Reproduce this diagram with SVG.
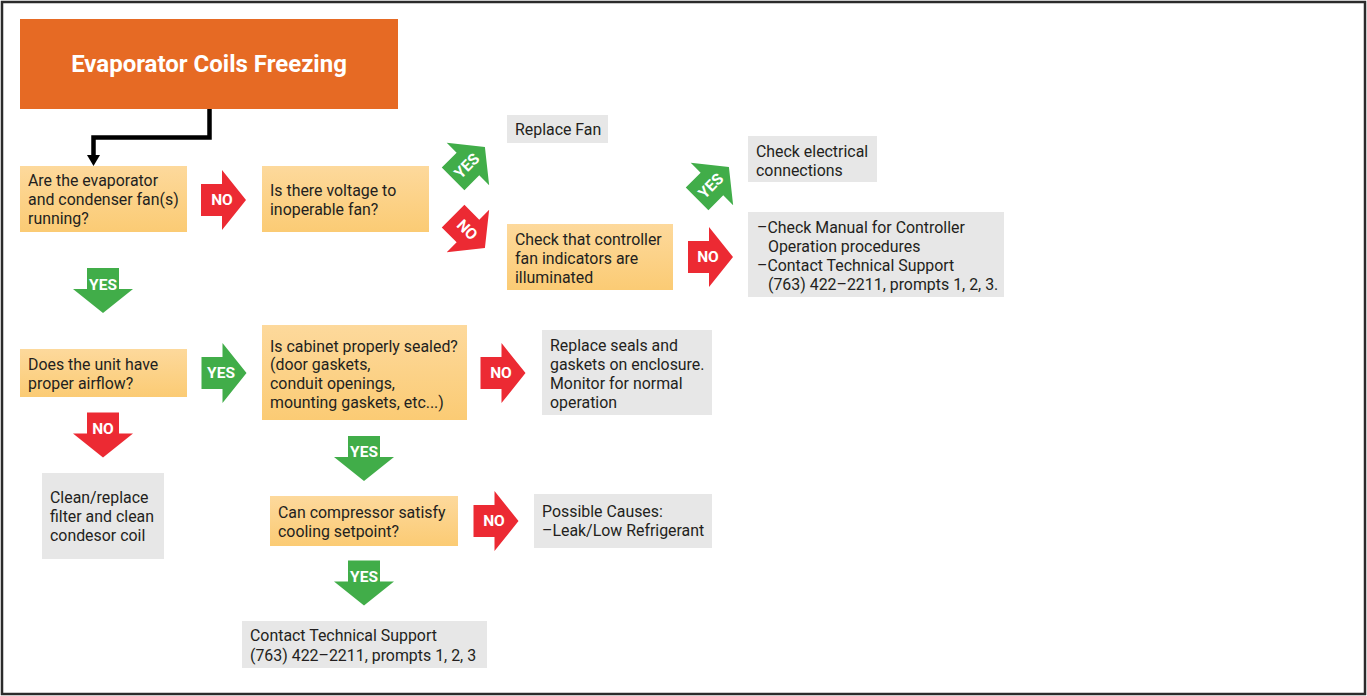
<svg xmlns="http://www.w3.org/2000/svg" width="1367" height="696" viewBox="0 0 1367 696">
<style>
.t{font-family:Roboto,"Liberation Sans",sans-serif;font-size:15.9px;fill:#231F20}
.q{fill:url(#og)}
.g{fill:#E7E7E7}
.lbl{font-family:Roboto,"Liberation Sans",sans-serif;font-size:15.5px;font-weight:bold;fill:#fff;text-anchor:middle}
.yes{fill:#41AD49}
.no{fill:#EC2A33}
</style>
<defs>
<linearGradient id="og" x1="0" y1="0" x2="0" y2="1">
<stop offset="0" stop-color="#FDD99C"/>
<stop offset="1" stop-color="#FBCB74"/>
</linearGradient>
<path id="ra" d="M-22.5,-16H-1.5V-30L22.5,0L-1.5,30V16H-22.5Z"/>
</defs>
<rect x="2" y="2" width="1363" height="692" fill="#fff" stroke="#2B2B2B" stroke-width="2.5"/>

<g id="title">
<rect x="20" y="19" width="378" height="90" fill="#E66A24"/>
<text x="209" y="72" font-family="Roboto,'Liberation Sans',sans-serif" font-size="24" font-weight="bold" fill="#fff" text-anchor="middle">Evaporator Coils Freezing</text>
</g>

<g id="connectors">
<polyline points="209.5,109 209.5,137.5 93.5,137.5 93.5,156" fill="none" stroke="#000" stroke-width="4.5"/>
<polygon points="87,155 100,155 93.5,166" fill="#000"/>
<use href="#ra" class="no" transform="translate(223.5,200)"/>
<text class="lbl" x="222" y="205">NO</text>
<use href="#ra" class="yes" transform="translate(469,163) rotate(-45)"/>
<text class="lbl" transform="translate(467,166) rotate(-45)" y="5">YES</text>
<use href="#ra" class="no" transform="translate(469,232) rotate(45)"/>
<text class="lbl" transform="translate(467,230) rotate(45)" y="5">NO</text>
<use href="#ra" class="yes" transform="translate(713,183) rotate(-45)"/>
<text class="lbl" transform="translate(711,186) rotate(-45)" y="5">YES</text>
<use href="#ra" class="no" transform="translate(710.5,257)"/>
<text class="lbl" x="708" y="262">NO</text>
<use href="#ra" class="yes" transform="translate(103,290.5) rotate(90)"/>
<text class="lbl" x="103" y="290">YES</text>
<use href="#ra" class="yes" transform="translate(224,373)"/>
<text class="lbl" x="221" y="378">YES</text>
<use href="#ra" class="no" transform="translate(503,373)"/>
<text class="lbl" x="501" y="378">NO</text>
<use href="#ra" class="no" transform="translate(103,435) rotate(90)"/>
<text class="lbl" x="103" y="434">NO</text>
<use href="#ra" class="yes" transform="translate(364,458.5) rotate(90)"/>
<text class="lbl" x="364" y="457">YES</text>
<use href="#ra" class="no" transform="translate(496,521)"/>
<text class="lbl" x="494" y="526">NO</text>
<use href="#ra" class="yes" transform="translate(364,583) rotate(90)"/>
<text class="lbl" x="364" y="582">YES</text>
</g>

<g id="q-fans">
<rect class="q" x="20" y="166" width="167" height="66"/>
<text class="t" x="28" y="186">Are the evaporator</text>
<text class="t" x="28" y="205">and condenser fan(s)</text>
<text class="t" x="28" y="224">running?</text>
</g>

<g id="q-voltage">
<rect class="q" x="262" y="166" width="167" height="66"/>
<text class="t" x="270" y="196">Is there voltage to</text>
<text class="t" x="270" y="215">inoperable fan?</text>
</g>

<g id="replace-fan">
<rect class="g" x="507" y="115" width="101" height="28"/>
<text class="t" x="515" y="135">Replace Fan</text>
</g>

<g id="q-indicators">
<rect class="q" x="507" y="224" width="166" height="66"/>
<text class="t" x="515" y="245">Check that controller</text>
<text class="t" x="515" y="264">fan indicators are</text>
<text class="t" x="515" y="283">illuminated</text>
</g>

<g id="check-electrical">
<rect class="g" x="748" y="136" width="129" height="46"/>
<text class="t" x="756" y="157">Check electrical</text>
<text class="t" x="756" y="176">connections</text>
</g>

<g id="check-manual">
<rect class="g" x="748" y="212" width="256" height="85"/>
<text class="t" x="757" y="233">–Check Manual for Controller</text>
<text class="t" x="768" y="252">Operation procedures</text>
<text class="t" x="757" y="271">–Contact Technical Support</text>
<text class="t" x="768" y="290">(763) 422–2211, prompts 1, 2, 3.</text>
</g>

<g id="q-airflow">
<rect class="q" x="20" y="349" width="167" height="48"/>
<text class="t" x="28" y="370">Does the unit have</text>
<text class="t" x="28" y="389">proper airflow?</text>
</g>

<g id="q-sealed">
<rect class="q" x="262" y="325" width="205" height="95"/>
<text class="t" x="270" y="351.5">Is cabinet properly sealed?</text>
<text class="t" x="270" y="370">(door gaskets,</text>
<text class="t" x="270" y="389">conduit openings,</text>
<text class="t" x="270" y="407.5">mounting gaskets, etc...)</text>
</g>

<g id="replace-seals">
<rect class="g" x="542" y="330" width="170" height="85"/>
<text class="t" x="550" y="351">Replace seals and</text>
<text class="t" x="550" y="370">gaskets on enclosure.</text>
<text class="t" x="550" y="389">Monitor for normal</text>
<text class="t" x="550" y="408">operation</text>
</g>

<g id="clean-filter">
<rect class="g" x="42" y="473" width="122" height="86"/>
<text class="t" x="50" y="503">Clean/replace</text>
<text class="t" x="50" y="522">filter and clean</text>
<text class="t" x="50" y="541">condesor coil</text>
</g>

<g id="q-compressor">
<rect class="q" x="270" y="496" width="188" height="50"/>
<text class="t" x="278" y="517.5">Can compressor satisfy</text>
<text class="t" x="278" y="537">cooling setpoint?</text>
</g>

<g id="possible-causes">
<rect class="g" x="534" y="494" width="178" height="54"/>
<text class="t" x="542" y="516.5">Possible Causes:</text>
<text class="t" x="542" y="536">–Leak/Low Refrigerant</text>
</g>

<g id="contact-support">
<rect class="g" x="242" y="621" width="245" height="47"/>
<text class="t" x="250" y="641">Contact Technical Support</text>
<text class="t" x="250" y="660.5">(763) 422–2211, prompts 1, 2, 3</text>
</g>
</svg>
